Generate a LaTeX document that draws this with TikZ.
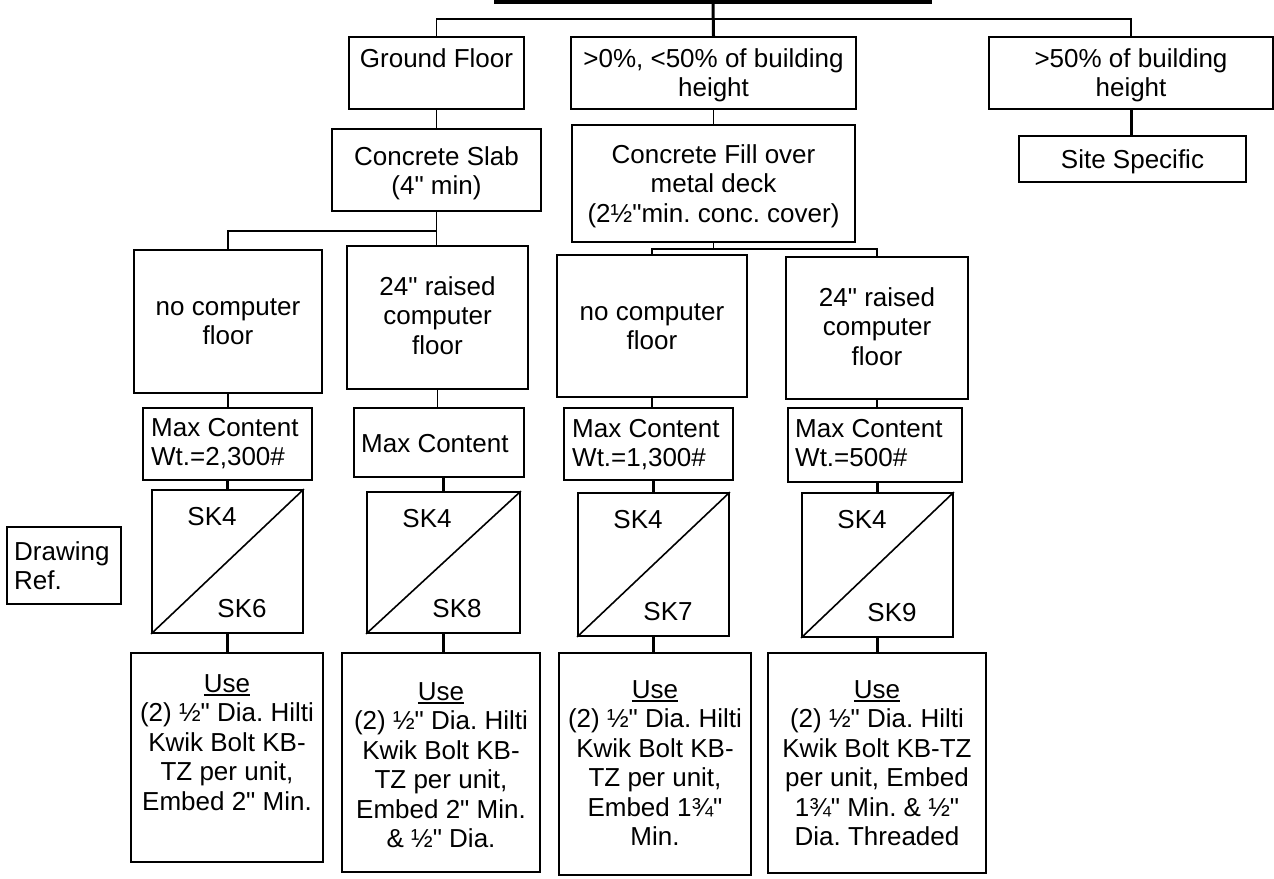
\documentclass[tikz,border=0pt]{standalone}
\usepackage{fontspec}
\newfontfamily\arialf{Liberation Sans}
\usetikzlibrary{fit}
\newcommand\fsz{\arialf\frenchspacing\fontsize{26}{29.5}\selectfont}
\newcommand\ulword[1]{\setbox0\hbox{#1}\rlap{\rule[-4pt]{\wd0}{1.8pt}}\box0}
\begin{document}
\begin{tikzpicture}[x=1pt,y=-1pt,
  box/.style={draw, line width=1.8pt, inner sep=0pt},
  lbl/.style={font=\fsz, align=center, inner sep=0pt, anchor=north},
  lbll/.style={font=\fsz, align=left, inner sep=0pt, anchor=north west},
  sklbl/.style={font=\fsz, inner sep=0pt, anchor=base},
  lnA/.style={line width=1.6pt},
  lnB/.style={line width=2.4pt},
  heavy/.style={line width=3pt}]
\useasboundingbox (0,0) rectangle (1274,878);
\fill[white] (0,0) rectangle (1274,878);

% top bar (bottom edge of title box)
\node[fill=black, inner sep=0pt, fit={(494,0) (932,3.5)}] (top) {};

% row 1
\node[box, fit={(349,37) (524,109)}] (gf) {};
\node[box, fit={(571,37) (856,109)}] (p0) {};
\node[box, fit={(989,37) (1273,109)}] (p50) {};
\node[box, fit={(1019,136) (1246,182)}] (site) {};
\node[lbl] (gft) at (436.5,46.35) {\strut Ground Floor};
\node[lbl] (p0t) at (713.5,46.35) {\strut >0\%, <50\% of building\\height};
\node[lbl] (p50t) at (1131,46.35) {\strut >50\% of building\\height};
\node[sklbl] (sitet) at (1132.5,168) {Site Specific};

% row 2
\node[box, fit={(332,129) (541,211)}] (slab) {};
\node[box, fit={(572,125) (855,242)}] (fill) {};
\node[lbl] (slabt) at (436.5,144.35) {\strut Concrete Slab\\(4" min)};
\node[lbl] (fillt) at (713.5,142.35) {\strut Concrete Fill over\\metal deck\\(2½"min. conc. cover)};

% row 3
\node[box, fit={(134,250) (322,393)}] (b1) {};
\node[box, fit={(347,246) (528,389)}] (b2) {};
\node[box, fit={(557,255) (747,397)}] (b3) {};
\node[box, fit={(786,257) (968,399)}] (b4) {};
\node[lbl] (b1t) at (228,294.35) {\strut no computer\\floor};
\node[lbl] (b2t) at (437.5,274.35) {\strut 24" raised\\computer\\floor};
\node[lbl] (b3t) at (652,299.35) {\strut no computer\\floor};
\node[lbl] (b4t) at (877,285.35) {\strut 24" raised\\computer\\floor};

% row 4
\node[box, fit={(143,408) (312,480)}] (m1) {};
\node[box, fit={(354,408) (524,477)}] (m2) {};
\node[box, fit={(564,408) (733,480)}] (m3) {};
\node[box, fit={(788,408) (962,482)}] (m4) {};
\node[lbll] (m1t) at (151,415.35) {\strut Max Content\\Wt.=2,300\#};
\node[lbll] (m2t) at (361,431.35) {\strut Max Content};
\node[lbll] (m3t) at (572,416.35) {\strut Max Content\\Wt.=1,300\#};
\node[lbll] (m4t) at (795,416.35) {\strut Max Content\\Wt.=500\#};

% drawing refs
\node[box, fit={(7,527) (121,604)}] (dref) {};
\node[lbll] (dreft) at (14,539.35) {\strut Drawing\\Ref.};
\node[box, fit={(152,490) (303,633)}] (sk1) {};
\node[box, fit={(367,492) (520,633)}] (sk2) {};
\node[box, fit={(578,493) (729,636)}] (sk3) {};
\node[box, fit={(802,493) (953,637)}] (sk4) {};
\draw[lnA] (sk1.south west) -- (sk1.north east);
\draw[lnA] (sk2.south west) -- (sk2.north east);
\draw[lnA] (sk3.south west) -- (sk3.north east);
\draw[lnA] (sk4.south west) -- (sk4.north east);
\node[sklbl] (sk1a) at (212,525) {SK4};
\node[sklbl] (sk1b) at (242,617) {SK6};
\node[sklbl] (sk2a) at (427,527) {SK4};
\node[sklbl] (sk2b) at (457,617) {SK8};
\node[sklbl] (sk3a) at (638,528) {SK4};
\node[sklbl] (sk3b) at (668,620) {SK7};
\node[sklbl] (sk4a) at (862,528) {SK4};
\node[sklbl] (sk4b) at (892,621) {SK9};

% use boxes
\node[box, fit={(131,653) (323,862)}] (u1) {};
\node[box, fit={(342,653) (540,872)}] (u2) {};
\node[box, fit={(559,653) (751,875)}] (u3) {};
\node[box, fit={(768,653) (986,873)}] (u4) {};
\node[lbl] (u1t) at (227,671.35) {\strut\ulword{Use}\\(2) ½" Dia. Hilti\\Kwik Bolt KB-\\TZ per unit,\\Embed 2" Min.};
\node[lbl] (u2t) at (441,679.35) {\strut\ulword{Use}\\(2) ½" Dia. Hilti\\Kwik Bolt KB-\\TZ per unit,\\Embed 2" Min.\\\& ½" Dia.};
\node[lbl] (u3t) at (655,677.35) {\strut\ulword{Use}\\(2) ½" Dia. Hilti\\Kwik Bolt KB-\\TZ per unit,\\Embed 1¾"\\Min.};
\node[lbl] (u4t) at (877,677.35) {\strut\ulword{Use}\\(2) ½" Dia. Hilti\\Kwik Bolt KB-TZ\\per unit, Embed\\1¾" Min. \& ½"\\Dia. Threaded};

% connectors
\coordinate (j1) at (713,19);
\coordinate (j2) at (436.5,231);
\coordinate (j3) at (713.5,249);
\draw[heavy] (top.south) -- (p0.north);
\draw[lnA] (gf.north) |- (j1) -| (p50.north);
\draw[lnA] (gf.south) -- (slab.north);
\draw[lnA] (p0.south) -- (p0.south |- fill.north);
\draw[heavy] (p50.south) -- (p50.south |- site.north);
\draw[lnA] (slab.south) -- (slab.south |- b2.north);
\draw[lnA] (b1.north) |- (j2);
\draw[lnA] (fill.south) -- (j3);
\draw[lnA] (b3.north) |- (j3) -| (b4.north);
\draw[lnA] (b1.south) -- (b1.south |- m1.north);
\draw[lnA] (b2.south) -- (b2.south |- m2.north);
\draw[lnA] (b3.south) -- (b3.south |- m3.north);
\draw[lnA] (b4.south) -- (b4.south |- m4.north);
\draw[lnB] (sk1.north |- m1.south) -- (sk1.north);
\draw[lnB] (sk2.north |- m2.south) -- (sk2.north);
\draw[lnB] (sk3.north |- m3.south) -- (sk3.north);
\draw[lnB] (sk4.north |- m4.south) -- (sk4.north);
\draw[heavy] (sk1.south) -- (sk1.south |- u1.north);
\draw[heavy] (sk2.south) -- (sk2.south |- u2.north);
\draw[heavy] (sk3.south) -- (sk3.south |- u3.north);
\draw[heavy] (sk4.south) -- (sk4.south |- u4.north);
\end{tikzpicture}
\end{document}
